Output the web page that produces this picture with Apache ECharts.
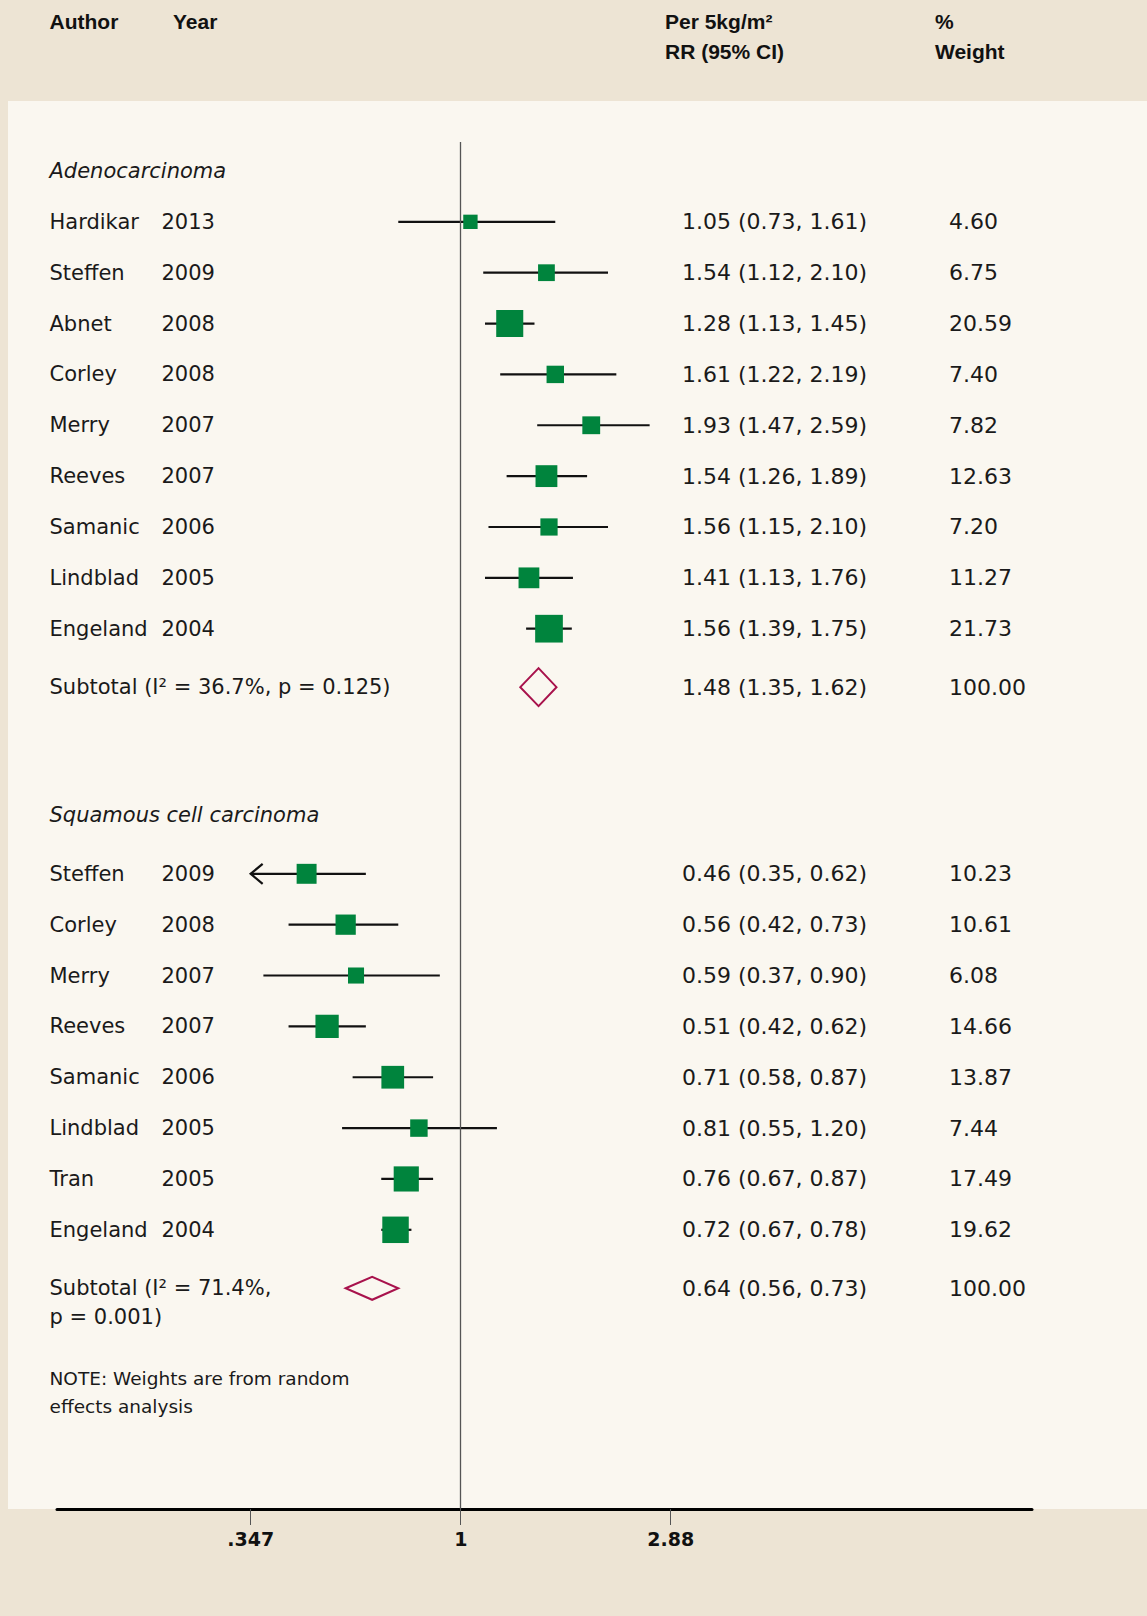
<!DOCTYPE html>
<html><head><meta charset="utf-8">
<script src="https://cdn.jsdelivr.net/npm/echarts@6/dist/echarts.min.js"></script>
<style>html,body{margin:0;padding:0;background:#EDE4D4}#c{width:1147px;height:1616px}</style>
</head><body><div id="c"></div>
<script>
// ---------------- data ----------------
const groupTitles = ['Adenocarcinoma', 'Squamous cell carcinoma'];

const adenoAuthors = ['Hardikar', 'Steffen', 'Abnet', 'Corley', 'Merry', 'Reeves', 'Samanic', 'Lindblad', 'Engeland'];
const adenoYears   = ['2013', '2009', '2008', '2008', '2007', '2007', '2006', '2005', '2004'];
const adenoRR      = [1.05, 1.54, 1.28, 1.61, 1.93, 1.54, 1.56, 1.41, 1.56];
const adenoLo      = [0.73, 1.12, 1.13, 1.22, 1.47, 1.26, 1.15, 1.13, 1.39];
const adenoHi      = [1.61, 2.10, 1.45, 2.19, 2.59, 1.89, 2.10, 1.76, 1.75];
const adenoWeight  = ['4.60', '6.75', '20.59', '7.40', '7.82', '12.63', '7.20', '11.27', '21.73'];

const squamAuthors = ['Steffen', 'Corley', 'Merry', 'Reeves', 'Samanic', 'Lindblad', 'Tran', 'Engeland'];
const squamYears   = ['2009', '2008', '2007', '2007', '2006', '2005', '2005', '2004'];
const squamRR      = [0.46, 0.56, 0.59, 0.51, 0.71, 0.81, 0.76, 0.72];
const squamLo      = [0.35, 0.42, 0.37, 0.42, 0.58, 0.55, 0.67, 0.67];
const squamHi      = [0.62, 0.73, 0.90, 0.62, 0.87, 1.20, 0.87, 0.78];
const squamWeight  = ['10.23', '10.61', '6.08', '14.66', '13.87', '7.44', '17.49', '19.62'];

const subtotalRR     = [1.48, 0.64];
const subtotalLo     = [1.35, 0.56];
const subtotalHi     = [1.62, 0.73];
const subtotalWeight = ['100.00', '100.00'];
const subtotalLabels = [['Subtotal (I\u00b2 = 36.7%, p = 0.125)'], ['Subtotal (I\u00b2 = 71.4%,', 'p = 0.001)']];

const noteLines = ['NOTE: Weights are from random', 'effects analysis'];

const headerAuthor = ['Author', 'Year'];
const headerRR     = ['Per 5kg/m\u00b2', 'RR (95% CI)'];
const headerWeight = ['%', 'Weight'];

const tickValues = [0.347, 1, 2.88];
const tickLabels = ['.347', '1', '2.88'];

// ---------------- layout / style constants ----------------
const TEXT = '#1a1a1a';
const GREEN = '#00843D';
const DIAMOND = '#A8124C';
const FONT = '"DejaVu Sans", "Noto Sans", sans-serif';
const HFONT = '"Liberation Sans", Arial, sans-serif';
const COL_AUTHOR = 49.5, COL_YEAR = 161.5, COL_RR = 682, COL_W = 949;
const diamondHeights = [38, 23];
const X_MIN = 0.1308, X_MAX = 17.78;     // display range of log axis
const Y_MAX = 26.88;                       // grid height in row units

const groups = [
  { title: groupTitles[0], authors: adenoAuthors, years: adenoYears, rr: adenoRR, lo: adenoLo, hi: adenoHi, w: adenoWeight },
  { title: groupTitles[1], authors: squamAuthors, years: squamYears, rr: squamRR, lo: squamLo, hi: squamHi, w: squamWeight }
];

// row positions (row units from grid top)
const studyData = [], studyMeta = [];
const subData = [], subMeta = [];
const textData = [], textMeta = [];
let pos = 0.57;
groups.forEach((g, gi) => {
  textData.push([pos]); textMeta.push({ text: g.title, italic: true, size: 21 });
  pos += (gi === 0 ? 1 : 1.16);
  g.rr.forEach((v, i) => {
    studyData.push([pos, Math.log(v), Math.log(g.lo[i]), Math.log(g.hi[i])]);
    studyMeta.push({ g: gi, i: i });
    if (i < g.rr.length - 1) pos += 1;
  });
  pos += 1.15;
  subData.push([pos, Math.log(subtotalRR[gi]), Math.log(subtotalLo[gi]), Math.log(subtotalHi[gi])]);
  subMeta.push({ g: gi });
  subtotalLabels[gi].forEach((t, k) => {
    if (k > 0) { textData.push([pos + 0.57 * k]); textMeta.push({ text: t, italic: false, size: 21 }); }
  });
  pos += 2.51;
});
const notePos = subData[1][0] + 1.77;
noteLines.forEach((t, k) => { textData.push([notePos + 0.55 * k]); textMeta.push({ text: t, italic: false, size: 18.5 }); });

function txt(x, y, text, opt) {
  opt = opt || {};
  return {
    type: 'text',
    style: {
      x: x, y: y, text: text, fill: TEXT,
      fontSize: opt.size || 21, fontFamily: opt.family || FONT,
      fontStyle: opt.italic ? 'italic' : 'normal', fontWeight: opt.bold ? 'bold' : 'normal',
      align: 'left', verticalAlign: 'middle'
    }
  };
}
const fmt = v => v.toFixed(2);

function renderStudy(params, api) {
  const m = studyMeta[params.dataIndex];
  const g = groups[m.g];
  const y = api.coord([0, api.value(0)])[1];
  const xr = api.coord([api.value(1), 0])[0];
  let lo = api.value(2), arrow = false;
  const lnMin = Math.log(tickValues[0]);
  if (lo <= lnMin + 0.01) { lo = lnMin; arrow = true; }
  const xl = api.coord([lo, 0])[0];
  const xh = api.coord([api.value(3), 0])[0];
  const w = parseFloat(g.w[m.i]);
  const side = 3 + 5.3 * Math.sqrt(w);
  const ch = [
    { type: 'line', shape: { x1: xl, y1: y, x2: xh, y2: y }, style: { stroke: '#111', lineWidth: 2.2 } },
    { type: 'rect', shape: { x: xr - side / 2, y: y - side / 2, width: side, height: side }, style: { fill: GREEN } },
    txt(COL_AUTHOR, y, g.authors[m.i]),
    txt(COL_YEAR, y, g.years[m.i]),
    txt(COL_RR, y, fmt(g.rr[m.i]) + ' (' + fmt(g.lo[m.i]) + ', ' + fmt(g.hi[m.i]) + ')', { size: 22 }),
    txt(COL_W, y, g.w[m.i], { size: 22 })
  ];
  if (arrow) {
    ch.push({ type: 'polyline', shape: { points: [[xl + 12, y - 10], [xl, y], [xl + 12, y + 10]] },
      style: { stroke: '#111', lineWidth: 2.2, fill: null } });
  }
  return { type: 'group', children: ch };
}

function renderSub(params, api) {
  const m = subMeta[params.dataIndex];
  const y = api.coord([0, api.value(0)])[1];
  const xr = api.coord([api.value(1), 0])[0];
  const xl = api.coord([api.value(2), 0])[0];
  const xh = api.coord([api.value(3), 0])[0];
  const h = diamondHeights[m.g] / 2;
  return { type: 'group', children: [
    { type: 'polygon', shape: { points: [[xl, y], [xr, y - h], [xh, y], [xr, y + h]] },
      style: { stroke: DIAMOND, lineWidth: 2, fill: '#FAF7F0' } },
    txt(COL_AUTHOR, y, subtotalLabels[m.g][0]),
    txt(COL_RR, y, fmt(subtotalRR[m.g]) + ' (' + fmt(subtotalLo[m.g]) + ', ' + fmt(subtotalHi[m.g]) + ')', { size: 22 }),
    txt(COL_W, y, subtotalWeight[m.g], { size: 22 })
  ] };
}

function renderText(params, api) {
  const m = textMeta[params.dataIndex];
  const y = api.coord([0, api.value(0)])[1];
  return txt(COL_AUTHOR, y, m.text, { italic: m.italic, size: m.size });
}

const lnTicks = tickValues.map(Math.log);
function tickFmt(v) {
  let best = 0;
  lnTicks.forEach((t, k) => { if (Math.abs(t - v) < Math.abs(lnTicks[best] - v)) best = k; });
  return tickLabels[best];
}

function hText(x, y, text) {
  return { type: 'text', x: x, y: y, silent: true,
    style: { text: text, fill: '#111', fontSize: 21, fontWeight: 'bold', fontFamily: HFONT, align: 'left', verticalAlign: 'middle' } };
}

const chart = echarts.init(document.getElementById('c'), null, { renderer: 'svg', width: 1147, height: 1616 });
chart.setOption({
  animation: false,
  backgroundColor: '#EDE4D4',
  grid: { left: 57, right: 115, top: 142, bottom: 107 },
  graphic: [
    { type: 'rect', z: -100, silent: true, shape: { x: 8, y: 101, width: 1139, height: 1408 }, style: { fill: '#FAF7F0' } },
    hText(49.5, 21.6, headerAuthor[0]),
    hText(173, 21.6, headerAuthor[1]),
    hText(665, 21.6, headerRR[0]),
    hText(665, 51.5, headerRR[1]),
    hText(935, 21.6, headerWeight[0]),
    hText(935, 51.5, headerWeight[1])
  ],
  xAxis: {
    type: 'value', min: Math.log(X_MIN), max: Math.log(X_MAX),
    splitLine: { show: false },
    axisLine: { show: true, onZero: false, lineStyle: { color: '#000', width: 3 } },
    axisTick: { show: true, customValues: lnTicks, length: 16, lineStyle: { color: '#555', width: 1 } },
    axisLabel: { show: true, customValues: lnTicks, formatter: tickFmt, margin: 20,
      color: '#111', fontSize: 19, fontWeight: 'bold', fontFamily: FONT }
  },
  yAxis: { type: 'value', inverse: true, min: 0, max: Y_MAX, show: false },
  series: [
    { type: 'line', data: [], silent: true,
      markLine: { silent: true, symbol: ['none', 'none'], label: { show: false },
        lineStyle: { color: '#555', width: 1.3, type: 'solid' }, data: [{ xAxis: 0 }] } },
    { type: 'custom', name: 'studies', data: studyData, renderItem: renderStudy, clip: false,
      encode: { x: [1, 2, 3], y: 0 } },
    { type: 'custom', name: 'subtotals', data: subData, renderItem: renderSub, clip: false,
      encode: { x: [1, 2, 3], y: 0 } },
    { type: 'custom', name: 'labels', data: textData, renderItem: renderText, clip: false,
      encode: { y: 0 } }
  ]
});
</script></body></html>
